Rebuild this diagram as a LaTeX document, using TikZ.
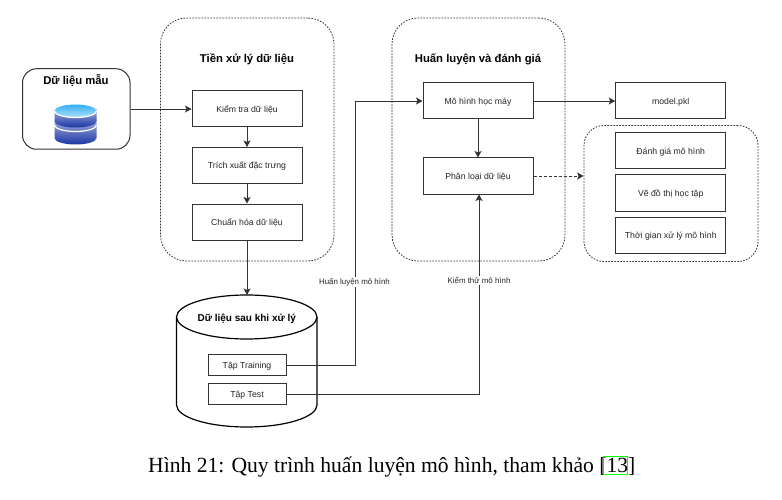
\documentclass[tikz,border=0pt]{standalone}
\usepackage{fontspec}
\setmainfont{Liberation Serif}
\setsansfont{Liberation Sans}
\usetikzlibrary{arrows.meta,shapes.geometric}
\definecolor{linec}{HTML}{333333}
\definecolor{iconlight}{HTML}{35B0F5}
\definecolor{icondark}{HTML}{1A35A5}
\tikzset{
  stepbox/.style={draw=linec,line width=1pt,minimum width=110pt,minimum height=36pt,inner sep=0pt,font=\sffamily\fontsize{8.7}{10}\selectfont,text=black!85,text height=6.5pt,text depth=0pt},
  smallbox/.style={stepbox,minimum width=78pt,minimum height=21pt},
  groupbox/.style={draw=linec,line width=0.8pt,dash pattern=on 1.6pt off 1.4pt,rounded corners=26pt,inner sep=0pt},
  titletext/.style={font=\sffamily\bfseries\fontsize{11.3}{13}\selectfont,inner sep=0pt},
  edgelabel/.style={font=\sffamily\fontsize{7.9}{9}\selectfont,fill=white,inner xsep=0.5pt,inner ysep=1pt,text=black!85},
  conn/.style={draw=linec,line width=0.9pt,-{Stealth[length=6.5pt,width=7pt,inset=1.5pt]}},
}
\begin{document}
\begin{tikzpicture}[x=1pt,y=-1pt]
\useasboundingbox (0,0) rectangle (782,500);
\fill[white] (0,0) rectangle (782,500);
% groups
\node[groupbox,minimum width=173.5pt,minimum height=243pt] (g1) at (247.25,139.5) {};
\node[groupbox,minimum width=173pt,minimum height=243pt] (g2) at (478.5,139.5) {};
\node[groupbox,minimum width=174pt,minimum height=136pt,rounded corners=20pt] (g3) at (671,193.5) {};
% source
\node[draw=linec,line width=1pt,rounded corners=14pt,minimum width=107.5pt,minimum height=80.5pt,inner sep=0pt] (src) at (76.25,109) {};
\node[titletext] (srct) at (76,80.5) {Dữ liệu mẫu};
% database icon (lower disc, then upper disc)
\shade[top color=icondark!40!white,bottom color=icondark] (54.5,120) -- (54.5,138) arc[start angle=180,end angle=0,x radius=21,y radius=6.5] -- (96.5,120) arc[start angle=0,end angle=180,x radius=21,y radius=6.5] -- cycle;
\draw[white,line width=1.2pt] (54.5,125) arc[start angle=180,end angle=0,x radius=21,y radius=6.5];
\shade[top color=icondark!40!white,bottom color=icondark] (54.5,109) -- (54.5,121) arc[start angle=180,end angle=0,x radius=21,y radius=6.5] -- (96.5,109) arc[start angle=0,end angle=180,x radius=21,y radius=6.5] -- cycle;
\shade[top color=iconlight,bottom color=iconlight!40!white] (75.5,111) ellipse[x radius=21,y radius=6.5];
\draw[white,line width=1.2pt] (54.5,111) arc[start angle=180,end angle=0,x radius=21,y radius=6.5];
% group titles
\node[titletext] (g1t) at (247,59.5) {Tiền xử lý dữ liệu};
\node[titletext] (g2t) at (478,59) {Huấn luyện và đánh giá};
% steps
\node[stepbox] (a1) at (247,109) {Kiểm tra dữ liệu};
\node[stepbox] (a2) at (247,165.5) {Trích xuất đặc trưng};
\node[stepbox] (a3) at (247,222) {Chuẩn hóa dữ liệu};
\node[stepbox] (b1) at (478,101) {Mô hình học máy};
\node[stepbox] (b2) at (478,176) {Phân loại dữ liệu};
\node[stepbox] (m) at (670.75,101) {model.pkl};
\node[stepbox] (c1) at (670.75,151) {Đánh giá mô hình};
\node[stepbox] (c2) at (670.75,193) {Vẽ đồ thị học tập};
\node[stepbox] (c3) at (670.75,235.5) {Thời gian xử lý mô hình};
% cylinder
\draw[black,line width=1.2pt,fill=white] (176.5,317) -- (176.5,405) arc[start angle=180,end angle=0,x radius=70.25,y radius=22] -- (317,317);
\draw[black,line width=1.2pt,fill=white] (246.75,317) ellipse[x radius=70.25,y radius=22];
\coordinate (cyltop) at (247,295);
\node[titletext,font=\sffamily\bfseries\fontsize{10}{12}\selectfont] (cylt) at (246.75,318.5) {Dữ liệu sau khi xử lý};
\node[smallbox] (tr) at (247,365) {Tập Training};
\node[smallbox] (te) at (247,394.25) {Tập Test};
% connectors
\draw[conn] (src.east |- a1) -- (a1.west);
\draw[conn] (a1) -- (a2);
\draw[conn] (a2) -- (a3);
\draw[conn] (a3) -- (cyltop);
\draw[conn] (b1) -- (b2);
\draw[conn] (b1) -- (m);
\draw[conn,densely dashed] (b2.east) -- (g3.west |- b2);
\coordinate (k1) at (355,365);
\coordinate (k2) at (355,101);
\draw[conn] (tr.east) -- (k1) -- (k2) -- (b1.west);
\coordinate (k3) at (479,394.25);
\draw[conn] (te.east) -- (k3) -- (k3 |- b2.south);
\node[edgelabel] (l1) at (354.5,282) {Huấn luyện mô hình};
\node[edgelabel] (l2) at (479,280.5) {Kiểm thử mô hình};
% caption
\node[font=\fontsize{21.6}{26}\selectfont,inner sep=0pt,anchor=base west] (cap) at (148,472) {Hình 21: Quy trình huấn luyện mô hình, tham khảo [13]};
\draw[green,line width=1pt] (603.5,456) rectangle (627.5,474);
\end{tikzpicture}
\end{document}
